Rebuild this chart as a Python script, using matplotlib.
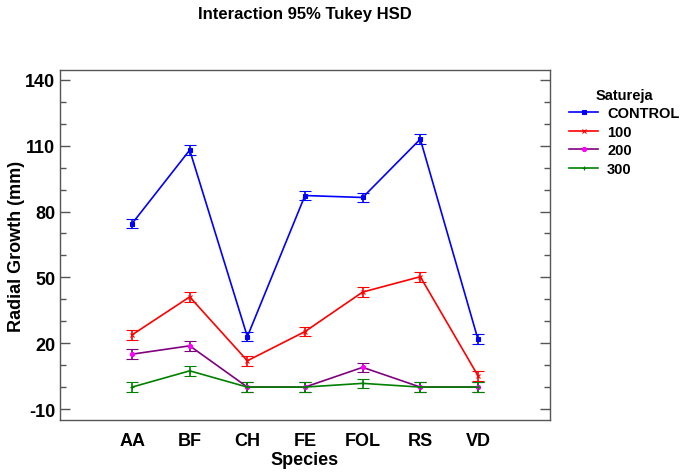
import matplotlib
matplotlib.use("Agg")
import matplotlib.pyplot as plt
import matplotlib.lines as mlines
from matplotlib.ticker import MultipleLocator

plt.rcParams['font.family'] = ['Liberation Sans', 'DejaVu Sans']
plt.rcParams['axes.unicode_minus'] = False

species = ["AA", "BF", "CH", "FE", "FOL", "RS", "VD"]
levels = ["CONTROL", "100", "200", "300"]

control = [74.5, 108, 23, 87.3, 86.4, 113, 21.8]
dose_100 = [23.8, 41.1, 12, 25.3, 43.3, 50.3, 5.2]
dose_200 = [15, 18.8, 0, 0, 9, 0, 0]
dose_300 = [0, 7.4, 0, 0, 1.7, 0, 0]
half_width = [2.2, 2.2, 2.2, 2.2, 2.2, 2.2, 2.2]

series = [control, dose_100, dose_200, dose_300]
line_colors = ["#0000FF", "#FF0000", "#800080", "#008000"]
marker_colors = ["#0000FF", "#FF0000", "#FF00FF", "#008000"]
markers = ["s", "x", "o", "+"]

fig = plt.figure(figsize=(6.85, 4.77), dpi=100)
ax = fig.add_axes([60 / 685, 1 - 421 / 477, 490 / 685, 350 / 477])

x = list(range(1, len(species) + 1))
handles = []
for vals, lab, lc, mc, mk in zip(series, levels, line_colors, marker_colors, markers):
    ax.errorbar(x, vals, yerr=half_width, color=lc, lw=1.2, capsize=4.5, capthick=1.2,
                elinewidth=1.2, marker=mk, markersize=3, markerfacecolor=mc,
                markeredgecolor=mc, markeredgewidth=0.8)
    handles.append(mlines.Line2D([], [], color=lc, lw=1.2, marker=mk, markersize=3,
                                 markerfacecolor=mc, markeredgecolor=mc,
                                 markeredgewidth=0.8, label=lab))

ax.set_xlim(-0.25, 8.25)
ax.set_ylim(-15, 144.5)
ax.set_xticks(x)
ax.set_xticklabels(species, fontsize=13, fontweight="bold")
ax.tick_params(axis="x", length=0, pad=9)
ax.yaxis.set_minor_locator(MultipleLocator(10))
ax.set_yticks(range(-10, 141, 30))
ax.tick_params(axis="y", which="both", direction="in", right=True, colors="#555555",
               labelcolor="black", labelsize=13)
ax.tick_params(axis="y", which="major", length=7, width=1)
ax.tick_params(axis="y", which="minor", length=4, width=1)
for lbl in ax.get_yticklabels():
    lbl.set_fontweight("bold")
for sp in ax.spines.values():
    sp.set_color("#555555")
    sp.set_linewidth(1)

ax.set_xlabel("Species", fontsize=13, fontweight="bold", labelpad=1)
ax.set_ylabel("Radial Growth (mm)", fontsize=13, fontweight="bold", labelpad=0)
fig.text(305 / 685, 1 - 14 / 477, "Interaction 95% Tukey HSD", fontsize=12,
         fontweight="bold", ha="center", va="center")

leg = fig.legend(handles=handles, loc="upper left", bbox_to_anchor=(556 / 685, 1 - 76 / 477),
                 frameon=False, title="Satureja",
                 prop={"size": 10.5, "weight": "bold"}, handlelength=2.0,
                 handletextpad=0.6, labelspacing=0.3)
leg.get_title().set_fontweight("bold")
leg.get_title().set_fontsize(10.5)

fig.savefig("out.png", dpi=100)
